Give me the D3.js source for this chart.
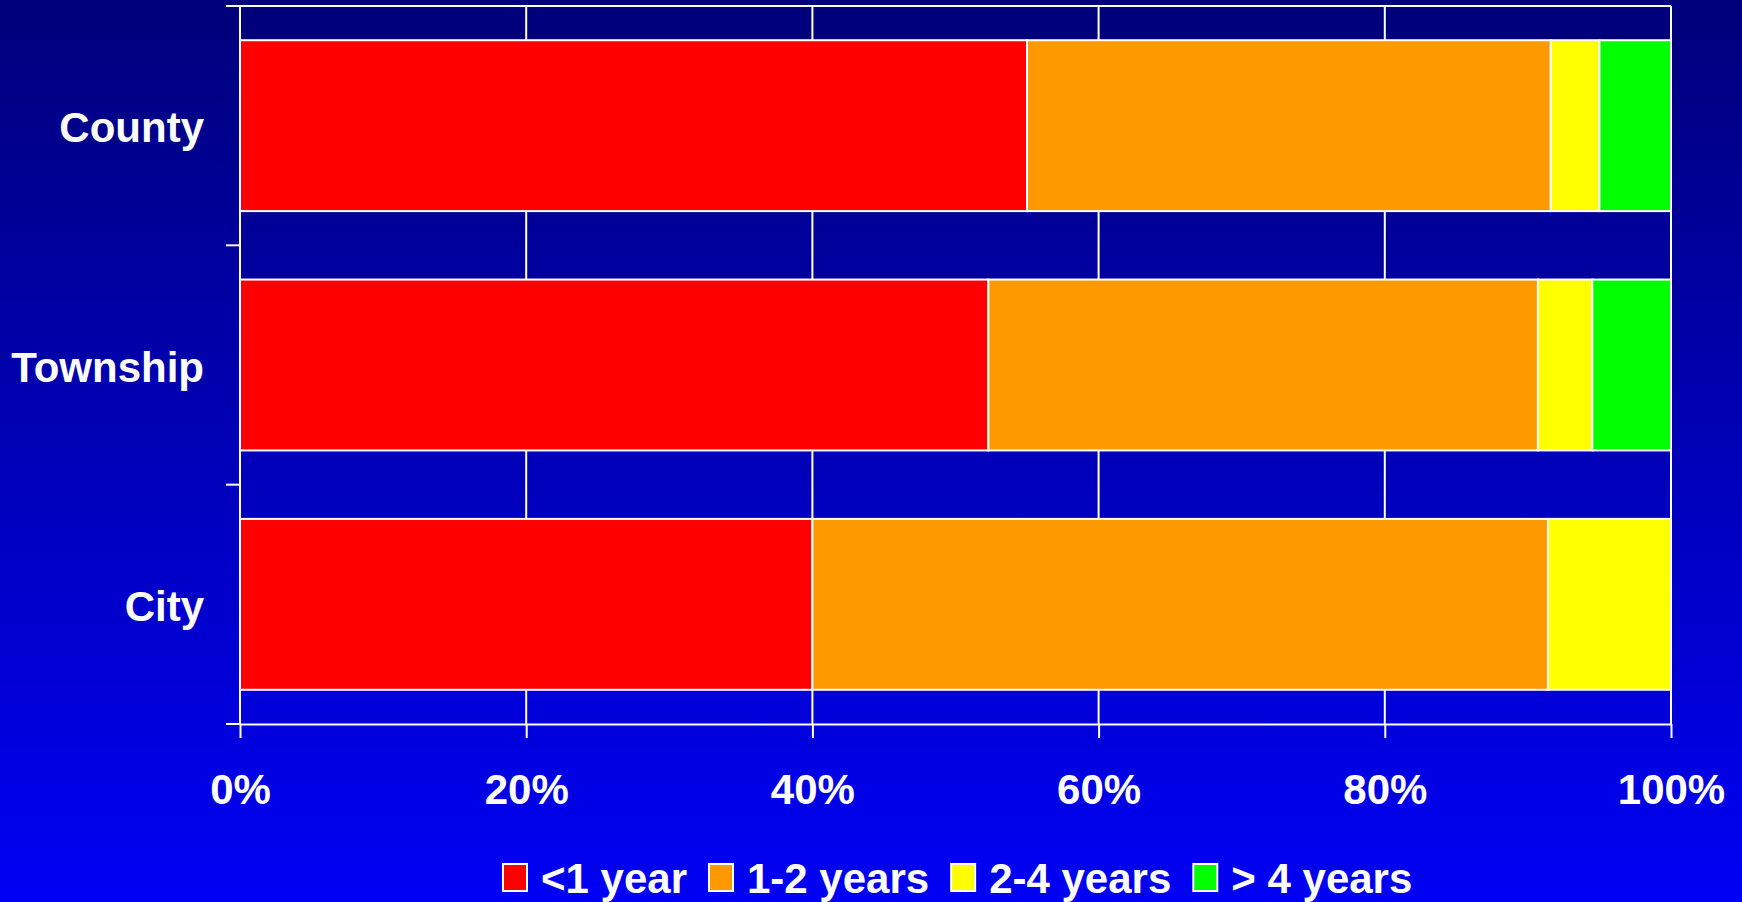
<!DOCTYPE html>
<html>
<head>
<meta charset="utf-8">
<script src="https://cdn.jsdelivr.net/npm/d3@7"></script>
<style>
  body { margin: 0; overflow: hidden; }
  text { font-family: "Liberation Sans", Arial, sans-serif; font-weight: bold; fill: #fff; }
</style>
</head>
<body>
<div id="chart"></div>
<script>
// data (percent of each row)
const categories = ["County", "Township", "City"];
const seriesNames = ["<1 year", "1-2 years", "2-4 years", "> 4 years"];
const seriesColors = ["#ff0000", "#ff9900", "#ffff00", "#00ff00"];
const lessThanOne = [55.0, 52.3, 40.0];
const oneToTwo = [36.6, 38.4, 51.4];
const twoToFour = [3.4, 3.8, 8.6];
const overFour = [5.0, 5.5, 0];
const xTicks = [0, 20, 40, 60, 80, 100];

const W = 1742, H = 902;
const margin = { top: 6, right: 71, bottom: 178, left: 240 };
const width = W - margin.left - margin.right;
const height = H - margin.top - margin.bottom;
const fontSize = "42px";

const svgRoot = d3.select("#chart")
    .append("svg")
    .attr("width", W)
    .attr("height", H);

// background gradient navy -> blue
const grad = svgRoot.append("defs").append("linearGradient")
    .attr("id", "bg")
    .attr("x1", 0).attr("y1", 0).attr("x2", 0).attr("y2", 1);
grad.append("stop").attr("offset", "0%").attr("stop-color", "#00007a");
grad.append("stop").attr("offset", "100%").attr("stop-color", "#0000f4");
svgRoot.append("rect").attr("width", W).attr("height", H).attr("fill", "url(#bg)");

const svg = svgRoot.append("g")
    .attr("transform", `translate(${margin.left},${margin.top})`);

const rows = categories.map((c, i) => ({
    cat: c,
    s0: lessThanOne[i], s1: oneToTwo[i], s2: twoToFour[i], s3: overFour[i]
}));
const keys = ["s0", "s1", "s2", "s3"];
const stacked = d3.stack().keys(keys)(rows);

const xScale = d3.scaleLinear().domain([0, 100]).range([0, width]);
const yScale = d3.scaleBand()
    .domain(categories)
    .range([0, height])
    .paddingInner(0.286)
    .paddingOuter(0.143);

// vertical grid lines
svg.append("g")
    .selectAll("line")
    .data(xTicks.slice(1))
    .enter()
    .append("line")
    .attr("x1", d => xScale(d)).attr("x2", d => xScale(d))
    .attr("y1", 0).attr("y2", height)
    .attr("stroke", "#fff")
    .attr("stroke-width", 2);

// top border
svg.append("line")
    .attr("x1", -14).attr("x2", width)
    .attr("y1", 0).attr("y2", 0)
    .attr("stroke", "#fff").attr("stroke-width", 2);

// bars
svg.append("g")
    .selectAll("g")
    .data(stacked)
    .enter()
    .append("g")
    .attr("fill", (d, i) => seriesColors[i])
    .selectAll("rect")
    .data(d => d.filter(p => p[1] - p[0] > 0))
    .enter()
    .append("rect")
    .attr("x", d => xScale(d[0]))
    .attr("width", d => xScale(d[1]) - xScale(d[0]))
    .attr("y", d => yScale(d.data.cat))
    .attr("height", yScale.bandwidth())
    .attr("stroke", "#fff")
    .attr("stroke-width", 2);

// x axis
const xAxis = svg.append("g")
    .attr("transform", `translate(0,${height})`)
    .call(d3.axisBottom(xScale).tickValues(xTicks).tickFormat(d => d + "%").tickSize(14).tickPadding(36).tickSizeOuter(0));
xAxis.select(".domain").attr("stroke", "#fff").attr("stroke-width", 2);
xAxis.selectAll(".tick line").attr("stroke", "#fff").attr("stroke-width", 2);
xAxis.selectAll(".tick text")
    .attr("fill", "#fff")
    .style("font-size", fontSize)
    .style("font-family", "'Liberation Sans', Arial, sans-serif")
    .style("font-weight", "bold");

// y axis: ticks at band boundaries
const boundaries = d3.range(categories.length + 1).map(i => i * height / categories.length);
svg.append("g")
    .selectAll("line")
    .data(boundaries)
    .enter()
    .append("line")
    .attr("x1", -14).attr("x2", 0)
    .attr("y1", d => d).attr("y2", d => d)
    .attr("stroke", "#fff").attr("stroke-width", 2);
svg.append("line")
    .attr("x1", 0).attr("x2", 0).attr("y1", 0).attr("y2", height)
    .attr("stroke", "#fff").attr("stroke-width", 2);

svg.append("g")
    .selectAll("text")
    .data(categories)
    .enter()
    .append("text")
    .attr("x", -36)
    .attr("y", d => yScale(d) + yScale.bandwidth() / 2 + 2)
    .attr("dy", "0.35em")
    .attr("text-anchor", "end")
    .style("font-size", fontSize)
    .text(d => d);

// legend
const legend = svgRoot.append("g").attr("transform", "translate(503,864)");
let lx = 0;
seriesNames.forEach((name, i) => {
    legend.append("rect")
        .attr("x", lx).attr("y", 0)
        .attr("width", 24).attr("height", 27)
        .attr("fill", seriesColors[i])
        .attr("stroke", "#fff").attr("stroke-width", 2);
    const t = legend.append("text")
        .attr("x", lx + 38).attr("y", 29)
        .style("font-size", fontSize)
        .text(name);
    lx += 38 + t.node().getComputedTextLength() + 22;
});
</script>
</body>
</html>
